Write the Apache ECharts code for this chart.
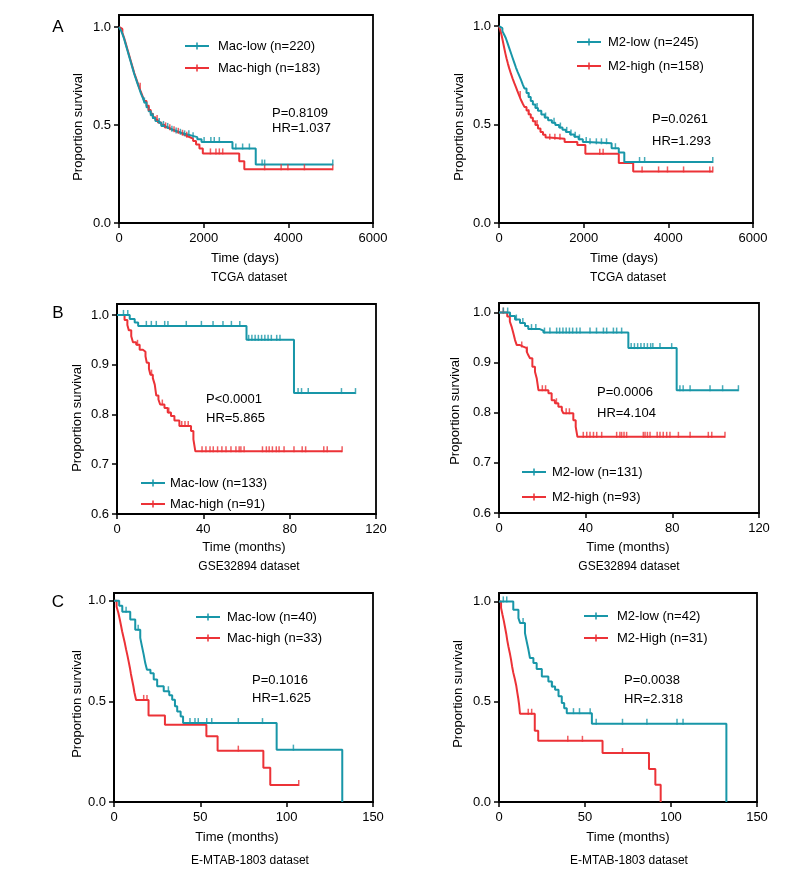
<!DOCTYPE html>
<html><head><meta charset="utf-8">
<script src="https://cdn.jsdelivr.net/npm/echarts@6/dist/echarts.min.js"></script>
<style>html,body{margin:0;padding:0;background:#fff}#c{width:811px;height:872px}</style>
</head><body><div id="c"></div>
<script>
// ---------------- DATA ----------------
// Kaplan-Meier steps: [time, survival after event]
const tcgaMacLow = [[0,1],[40,0.985],[80,0.965],[120,0.94],[160,0.91],[200,0.88],[240,0.85],[280,0.82],[320,0.79],[360,0.76],[400,0.735],[440,0.71],[480,0.685],[520,0.66],[560,0.64],[600,0.615],[650,0.59],[700,0.57],[750,0.55],[800,0.535],[860,0.52],[920,0.51],[1000,0.495],[1080,0.485],[1160,0.477],[1250,0.47],[1350,0.462],[1450,0.455],[1550,0.447],[1700,0.438],[1850,0.427],[1950,0.413],[2680,0.38],[3230,0.298],[5050,0.298]];
const tcgaMacHigh = [[0,1],[40,0.99],[80,0.97],[120,0.945],[160,0.915],[200,0.885],[240,0.855],[280,0.825],[320,0.795],[360,0.765],[400,0.74],[440,0.715],[480,0.69],[520,0.667],[560,0.645],[600,0.622],[650,0.598],[700,0.577],[750,0.557],[800,0.54],[860,0.525],[920,0.513],[1000,0.5],[1080,0.488],[1160,0.478],[1250,0.468],[1350,0.46],[1450,0.45],[1550,0.44],[1650,0.43],[1750,0.418],[1820,0.4],[1900,0.38],[1980,0.355],[2840,0.315],[2960,0.274],[5050,0.274]];
const tcgaMacLowCens = [600,800,950,1050,1150,1250,1350,1450,1550,1650,1750,2010,2170,2250,2370,2760,2920,3080,3380,3440,5050];
const tcgaMacHighCens = [500,700,900,1100,1200,1300,1400,1500,1600,2160,2290,2370,2450,3440,3830,3990,4380,5050];

const tcgaM2Low = [[0,1],[40,0.99],[80,0.975],[120,0.958],[160,0.94],[200,0.915],[240,0.89],[280,0.865],[320,0.84],[360,0.815],[400,0.79],[440,0.768],[480,0.748],[520,0.727],[560,0.705],[600,0.684],[650,0.66],[700,0.64],[750,0.62],[800,0.602],[860,0.585],[920,0.57],[1000,0.552],[1080,0.536],[1160,0.522],[1250,0.51],[1330,0.498],[1420,0.485],[1500,0.474],[1580,0.463],[1680,0.45],[1780,0.438],[1880,0.425],[1980,0.412],[2080,0.405],[2660,0.38],[2830,0.358],[2960,0.31],[5050,0.31]];
const tcgaM2High = [[0,1],[30,0.98],[60,0.955],[90,0.925],[120,0.893],[150,0.862],[180,0.835],[210,0.81],[240,0.787],[280,0.76],[320,0.735],[360,0.712],[400,0.69],[440,0.668],[480,0.646],[520,0.625],[560,0.607],[600,0.59],[650,0.572],[700,0.553],[750,0.535],[800,0.517],[860,0.498],[920,0.48],[980,0.463],[1040,0.448],[1100,0.435],[1180,0.428],[1550,0.412],[1850,0.396],[2040,0.352],[2830,0.305],[3170,0.262],[5050,0.262]];
const tcgaM2LowCens = [700,900,1100,1300,1450,1600,1700,1800,1900,2060,2150,2300,2420,2540,2750,3320,3440,5050];
const tcgaM2HighCens = [500,700,900,1200,1320,1440,2380,2460,3380,3770,3980,4360,4980,5050];

const gseMacLow = [[0,1],[5.9,0.992],[8.2,0.985],[9.8,0.978],[60,0.95],[82,0.843],[110.5,0.843]];
const gseMacHigh = [[0,1],[3.5,0.99],[4.8,0.98],[5.5,0.969],[6.6,0.957],[7.4,0.945],[8.9,0.94],[10.5,0.93],[12,0.926],[13.2,0.917],[13.8,0.904],[14.8,0.892],[15.5,0.88],[16.6,0.873],[17.5,0.86],[18.2,0.838],[19.2,0.83],[20,0.82],[22,0.813],[23.5,0.804],[25,0.797],[26.6,0.788],[28.9,0.777],[34.3,0.767],[35.4,0.75],[36.3,0.726],[104.3,0.726]];
const gseMacLowCens = [3,5,13.6,15.9,18.2,22.1,23.6,32.1,39.1,44.5,49.1,53,56.9,61,62.5,64,65.5,67,68.5,70,71.5,74,75.5,83.9,85.5,88.6,104,110.5];
const gseMacHighCens = [9.5,16,21,24,30,31.5,33,39.4,41.2,43.1,44.6,46.6,48.6,50.5,52.8,55.1,56.6,57.4,58.9,67.4,69.2,70.5,72,73.8,75.1,77.4,82,85.8,87.4,95.8,97.4,104.3];

const gseM2Low = [[0,1],[5.1,0.993],[7.4,0.986],[9.7,0.979],[12,0.973],[13.5,0.967],[18.9,0.964],[20.5,0.96],[59.7,0.929],[82,0.845],[110.5,0.845]];
const gseM2High = [[0,1],[3.8,0.992],[5,0.982],[5.8,0.972],[6.6,0.959],[7.4,0.945],[8.2,0.935],[9.7,0.932],[11.2,0.929],[12.8,0.922],[13.5,0.915],[14.3,0.909],[15.4,0.892],[16.6,0.882],[17.4,0.869],[18.2,0.845],[22.8,0.839],[24.3,0.825],[25.8,0.819],[27.4,0.812],[29,0.805],[29.7,0.799],[34.3,0.785],[35.4,0.772],[36.2,0.752],[104.3,0.752]];
const gseM2LowCens = [2,4,8,11,15,17,21,23.5,26.6,28,29.5,31,32.5,34,35.8,37.4,42,45,48.2,49.7,52.8,54.3,56.6,61,62.5,64,65.5,67,68.5,70,71,74.3,79.7,83.5,85,88.2,97.4,103.2,110.5];
const gseM2HighCens = [2,10.5,13,20,21.5,26.5,31,32.5,38.9,40.5,42,43.6,45.1,47.4,54.3,55.8,56.6,57.7,58.9,66.6,67.4,68.5,69.7,73,74.3,75.8,77.4,78.9,82.8,88.2,96.6,98.2,104.3];

const mtabMacLow = [[0,1],[3,0.975],[4.8,0.945],[9.4,0.906],[12.3,0.856],[15.2,0.815],[16.2,0.773],[17.2,0.732],[18.1,0.69],[19.1,0.657],[21.1,0.64],[23,0.608],[25,0.575],[28.8,0.55],[32,0.53],[33.7,0.508],[35.3,0.475],[36.6,0.45],[38.6,0.425],[40,0.392],[94.2,0.26],[132.2,0]];
const mtabMacHigh = [[0,1],[1.5,0.97],[2.5,0.94],[3.3,0.909],[4,0.879],[4.7,0.848],[5.5,0.818],[6.3,0.788],[7,0.758],[7.8,0.727],[8.5,0.697],[9.2,0.667],[9.8,0.636],[10.5,0.606],[11.2,0.576],[11.8,0.545],[12.8,0.507],[20,0.43],[29.5,0.384],[53.5,0.326],[60,0.255],[86.5,0.17],[90.5,0.085],[107,0.085]];
const mtabMacLowCens = [7,14,31.5,44,46.9,48.8,53.7,56.6,72,86,103.9];
const mtabMacHighCens = [17.2,19.1,72,107];

const mtabM2Low = [[0,1],[8.3,0.958],[11.3,0.917],[12.3,0.892],[15.1,0.842],[16.1,0.8],[17.1,0.76],[18,0.718],[20,0.693],[21.9,0.663],[24.9,0.626],[28.7,0.601],[30.7,0.576],[32.6,0.56],[34.6,0.527],[36.5,0.493],[37.9,0.468],[39.4,0.443],[54,0.39],[132.2,0]];
const mtabM2High = [[0,1],[1.2,0.968],[2,0.935],[2.8,0.903],[3.5,0.871],[4.2,0.839],[4.8,0.806],[5.5,0.774],[6.3,0.742],[7,0.71],[7.6,0.677],[8.3,0.645],[9.2,0.613],[10,0.581],[10.6,0.548],[11.2,0.516],[11.7,0.484],[12.2,0.44],[20.8,0.355],[22.8,0.305],[60.2,0.244],[87.2,0.164],[90.9,0.086],[94,0]];
const mtabM2LowCens = [2.5,4.5,14,31,43.3,46.8,53,56.5,71.8,86,103.5,107];
const mtabM2HighCens = [17,19,40,48.5,71.8];

// labels
const lowNames = ['Mac-low (n=220)','M2-low (n=245)','Mac-low (n=133)','M2-low (n=131)','Mac-low (n=40)','M2-low (n=42)'];
const highNames = ['Mac-high (n=183)','M2-high (n=158)','Mac-high (n=91)','M2-high (n=93)','Mac-high (n=33)','M2-High (n=31)'];
const pTexts = ['P=0.8109','P=0.0261','P<0.0001','P=0.0006','P=0.1016','P=0.0038'];
const hrTexts = ['HR=1.037','HR=1.293','HR=5.865','HR=4.104','HR=1.625','HR=2.318'];
const xTitles = ['Time (days)','Time (days)','Time (months)','Time (months)','Time (months)','Time (months)'];
const datasetNames = ['TCGA dataset','TCGA dataset','GSE32894 dataset','GSE32894 dataset','E-MTAB-1803 dataset','E-MTAB-1803 dataset'];
const panelLetters = ['A','B','C'];
const xMaxs = [6000,6000,120,120,150,150];
const xSteps = [2000,2000,40,40,50,50];
const yTickSets = [[0,0.5,1],[0,0.5,1],[0.6,0.7,0.8,0.9,1],[0.6,0.7,0.8,0.9,1],[0,0.5,1],[0,0.5,1]];

const lowCurves = [tcgaMacLow, tcgaM2Low, gseMacLow, gseM2Low, mtabMacLow, mtabM2Low];
const highCurves = [tcgaMacHigh, tcgaM2High, gseMacHigh, gseM2High, mtabMacHigh, mtabM2High];
const lowCens = [tcgaMacLowCens, tcgaM2LowCens, gseMacLowCens, gseM2LowCens, mtabMacLowCens, mtabM2LowCens];
const highCens = [tcgaMacHighCens, tcgaM2HighCens, gseMacHighCens, gseM2HighCens, mtabMacHighCens, mtabM2HighCens];

// ---------------- LAYOUT ----------------
const TEAL = '#1896a8', RED = '#ec3237';
const FONT = '"Liberation Sans", Arial, Helvetica, sans-serif';
const grids = [
  {left:119, top:15, width:254, height:208, yMin:0, yMax:1.061, yStep:0.5},
  {left:499, top:15, width:254, height:208, yMin:0, yMax:1.057, yStep:0.5},
  {left:117, top:304, width:259, height:210, yMin:0.6, yMax:1.022, yStep:0.1},
  {left:499, top:303, width:260, height:210, yMin:0.6, yMax:1.019, yStep:0.1},
  {left:114, top:593, width:259, height:209, yMin:0, yMax:1.038, yStep:0.5},
  {left:499, top:593, width:258, height:209, yMin:0, yMax:1.042, yStep:0.5}
];
const legendPos = [
  {left:180, c:41, gap:22, pad:4},
  {left:572, c:37, gap:24, pad:2},
  {left:136, c:478, gap:21, pad:0},
  {left:517, c:467, gap:25, pad:1},
  {left:191, c:612, gap:21, pad:2},
  {left:579, c:611, gap:22, pad:4}
];
const statPos = [
  {x:272, p:113, hr:128},
  {x:652, p:119, hr:141},
  {x:206, p:399, hr:418},
  {x:597, p:392, hr:413},
  {x:252, p:680, hr:698},
  {x:624, p:680, hr:699}
];
const yTitlePos = [{x:78,y:127},{x:459,y:127},{x:77,y:418},{x:455,y:411},{x:77,y:704},{x:458,y:694}];
const xTitlePos = [{x:245,y:258},{x:624,y:258},{x:244,y:547},{x:628,y:547},{x:237,y:837},{x:628,y:837}];
const dsPos = [{x:249,y:278},{x:628,y:278},{x:249,y:567},{x:629,y:567},{x:250,y:861},{x:629,y:861}];
const letterPos = [{x:58,y:27},{x:58,y:313},{x:58,y:602}];

function survAt(curve, t) {
  let s = curve[0][1];
  for (const p of curve) { if (p[0] <= t) s = p[1]; else break; }
  return s;
}
const ICON = 'path://M0,2.5H24V4.5H0Z M11.25,0H12.75V7H11.25Z';

const option = {
  animation: false,
  backgroundColor: '#fff',
  textStyle: {fontFamily: FONT},
  grid: [], xAxis: [], yAxis: [], series: [], legend: [], graphic: []
};

grids.forEach((g, i) => {
  option.grid.push({left:g.left, top:g.top, width:g.width, height:g.height, show:true, borderColor:'#000', borderWidth:1.8, backgroundColor:'transparent', containLabel:false});
  option.xAxis.push({
    type:'value', gridIndex:i, min:0, max:xMaxs[i], interval:xSteps[i],
    axisLine:{show:true, onZero:false, lineStyle:{color:'#000', width:2}},
    axisTick:{show:true, length:5, lineStyle:{color:'#000', width:1.5}},
    axisLabel:{color:'#000', fontSize:13, fontFamily:FONT, margin:9, formatter: v => String(v)},
    splitLine:{show:false}
  });
  const ticks = yTickSets[i];
  option.yAxis.push({
    type:'value', gridIndex:i, min:g.yMin, max:g.yMax, interval:g.yStep,
    axisLine:{show:true, onZero:false, lineStyle:{color:'#000', width:2}},
    axisTick:{show:true, length:5, lineStyle:{color:'#000', width:1.5}, customValues:ticks},
    axisLabel:{color:'#000', fontSize:13, fontFamily:FONT, margin:8, customValues:ticks,
      formatter: v => (Math.abs(v*10 - Math.round(v*10)) < 1e-6 ? v.toFixed(1) : '')},
    splitLine:{show:false}
  });
  const groups = [
    {name:highNames[i], curve:highCurves[i], cens:highCens[i], color:RED},
    {name:lowNames[i], curve:lowCurves[i], cens:lowCens[i], color:TEAL}
  ];
  groups.forEach(gr => {
    option.series.push({
      type:'line', name:gr.name, xAxisIndex:i, yAxisIndex:i, step:'end',
      data:gr.curve, symbol:'none', showSymbol:false, color:gr.color,
      lineStyle:{color:gr.color, width:2}, itemStyle:{color:gr.color}, z:3
    });
    option.series.push({
      type:'scatter', name:gr.name, xAxisIndex:i, yAxisIndex:i,
      data:gr.cens.map(t => [t, survAt(gr.curve, t)]),
      symbol:'rect', symbolSize:[1.5, 6], symbolOffset:[0,-2],
      itemStyle:{color:gr.color}, z:4, silent:true
    });
  });
  const lp = legendPos[i];
  option.legend.push({
    orient:'vertical', left:lp.left, top:lp.c - 8, itemGap:lp.gap - 16,
    itemWidth:24, itemHeight:7, selectedMode:false,
    data:[{name:lowNames[i], icon:ICON}, {name:highNames[i], icon:ICON}],
    textStyle:{fontSize:13, color:'#000', fontFamily:FONT, lineHeight:16, padding:[0,0,0,lp.pad]}
  });
  const sp = statPos[i];
  option.graphic.push({type:'text', x:sp.x, y:sp.p, style:{text:pTexts[i], fontSize:13, fontFamily:FONT, fill:'#000', align:'left', verticalAlign:'middle'}});
  option.graphic.push({type:'text', x:sp.x, y:sp.hr, style:{text:hrTexts[i], fontSize:13, fontFamily:FONT, fill:'#000', align:'left', verticalAlign:'middle'}});
  option.graphic.push({type:'text', x:yTitlePos[i].x, y:yTitlePos[i].y, rotation:Math.PI/2, style:{text:'Proportion survival', fontSize:13, fontFamily:FONT, fill:'#000', align:'center', verticalAlign:'middle'}});
  option.graphic.push({type:'text', x:xTitlePos[i].x, y:xTitlePos[i].y, style:{text:xTitles[i], fontSize:13, fontFamily:FONT, fill:'#000', align:'center', verticalAlign:'middle'}});
  option.graphic.push({type:'text', x:dsPos[i].x, y:dsPos[i].y, style:{text:datasetNames[i], fontSize:12, fontFamily:FONT, fill:'#000', align:'center', verticalAlign:'middle'}});
});
letterPos.forEach((p, k) => {
  option.graphic.push({type:'text', x:p.x, y:p.y, style:{text:panelLetters[k], fontSize:17, fontFamily:FONT, fill:'#000', align:'center', verticalAlign:'middle'}});
});

const chart = echarts.init(document.getElementById('c'), null, {renderer:'canvas'});
chart.setOption(option);
</script></body></html>
